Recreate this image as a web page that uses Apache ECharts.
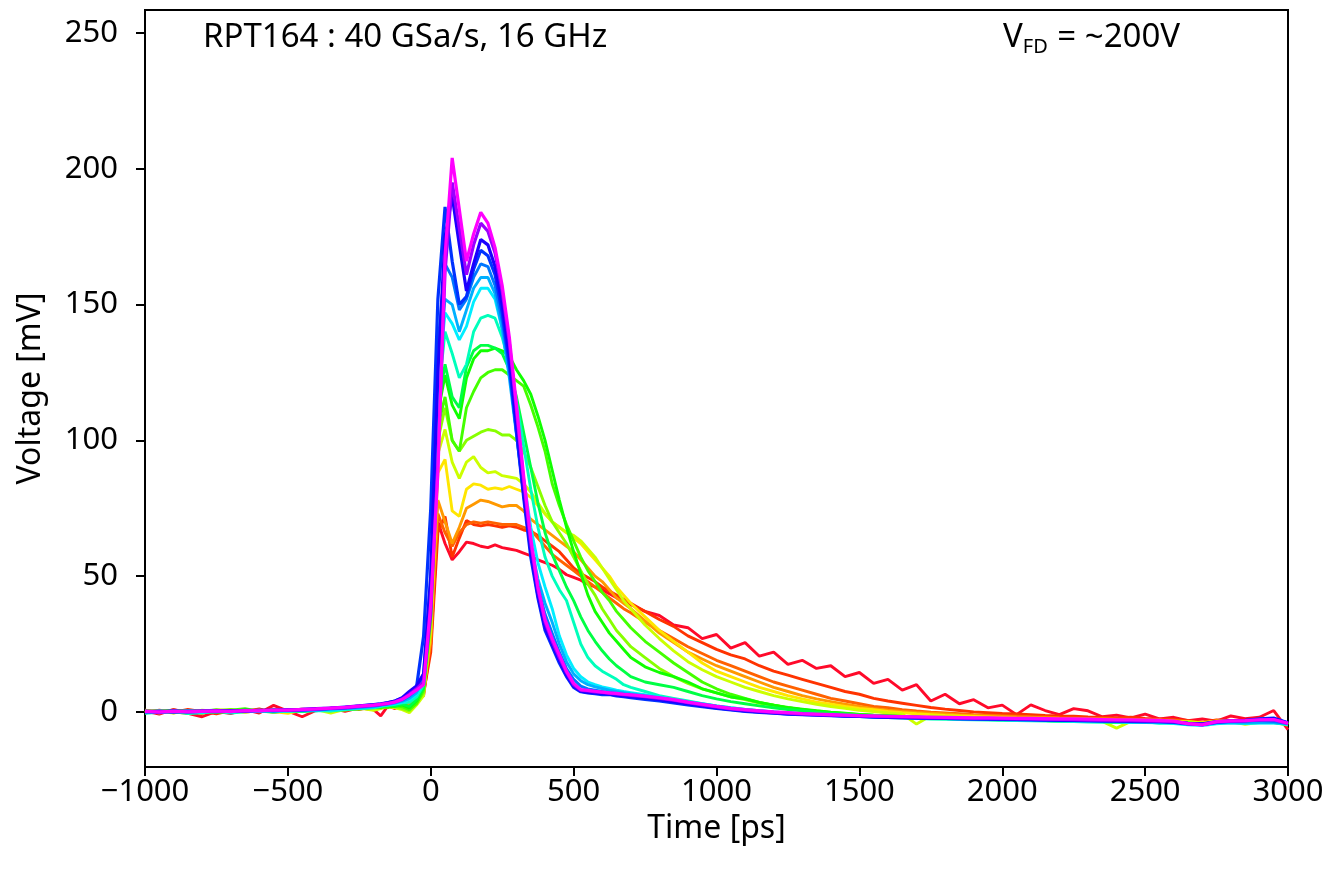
<!DOCTYPE html>
<html>
<head>
<meta charset="utf-8">
<script src="https://cdn.jsdelivr.net/npm/echarts@6/dist/echarts.min.js"></script>
<style>
html,body{margin:0;padding:0;background:#fff;}
#chart{width:1330px;height:873px;}
</style>
</head>
<body>
<div id="chart"></div>
<script>
// Time samples [ps]
const timePs = [
 -1000,-950,-900,-850,-800,-750,-700,-650,-600,-550,-500,-450,-400,-350,-300,-250,-200,
 -175,-150,-125,-100,-75,-50,-25,0,25,50,75,100,125,150,175,200,225,250,275,300,325,350,375,400,425,450,475,500,525,550,575,600,625,650,675,700,
 750,800,850,900,950,1000,1050,1100,1150,1200,1250,1300,1350,1400,1450,1500,1550,1600,1650,1700,1750,1800,1850,1900,1950,2000,2050,2100,2150,2200,2250,2300,2350,2400,2450,2500,2550,2600,2650,2700,2750,2800,2850,2900,2950,3000
];

// Voltage [mV] per trace (red -> magenta)
const vRed = [
 0.3,-0.8,0.9,-0.5,-1.8,0.2,-0.6,0.8,-0.4,2.4,0.3,-1.8,0.6,1.4,0.2,1.5,0.8,
 -1.5,2.2,1.2,2.8,3.5,4.2,6, 25,70,62,56,59,62.5,62,61,60.5,61.5,60.5,60,59.5,58.5,57.5,56,55,54,52.5,50.5,49.5,48.5,47,46,45,43.5,42,41,39.5,
 37,35.5,32,31,27,28.5,23.5,25.5,20.5,22,17.5,19,16,17,13,14.5,10.5,12,8,10,4,6.5,3,4.5,1.5,2.5,-1,2.6,0.5,-1,1.2,0.4,-1.8,-1.2,-2.2,-0.8,-2.6,-2.0,-3.2,-2.6,-3.4,-1.5,-2.5,-2,0.5,-6.5
];
const vRedOrange = [
 -0.4,0.6,-0.2,0.9,0.1,-0.7,0.5,0.2,1.1,-0.3,0.7,0.4,1.2,0.3,1.5,0.9,1.8,
 1.5,2.6,2.2,3.0,2.5,4.5,7, 22,66,72,57,64,70.5,69,68.5,69,68.5,68,68.5,68,67,66.5,65,63,61,59,56,53,51,49.5,48,46,44.5,43,41.5,40,
 37,34,31.5,28,25.5,23,21,19.5,17,15,13.5,12,10.5,9,7.5,6.5,5,4,3.2,2.4,1.6,1,0.5,0,-0.3,-0.6,-0.8,-1.0,-1.3,-1.5,-1.6,-1.9,-2.0,-2.2,-2.0,-2.4,-2.6,-2.8,-3.2,-3.8,-3.0,-3.2,-3.6,-3.0,-3.3,-4.5
];
const vOrangeRed = [
 0.5,-0.3,0.4,0.1,-0.5,0.6,-0.2,0.3,0.8,0.0,0.5,1.0,0.6,1.3,0.9,1.6,1.9,
 2.1,1.8,2.9,3.4,3.0,4.8,8, 28,73,66,61,66,69,70,69.5,70,69.5,69,69,69,68,67,64,61,58,56,54,52,50,48,46,44,42,40,38,36.5,
 33,30,27,24,21.5,19,17,15,13,11,9.5,8,6.5,5,4,3,2,1.5,0.8,0.3,-0.1,-0.4,-0.7,-1.0,-1.2,-1.4,-1.6,-1.8,-1.9,-2.1,-2.2,-2.4,-2.5,-2.6,-2.7,-2.9,-3.0,-3.1,-3.5,-4.0,-3.4,-3.3,-3.5,-3.4,-3.6,-4.8
];
const vOrange = [
 -0.2,0.4,0.0,-0.6,0.3,0.1,0.7,-0.1,0.4,0.6,0.2,0.9,0.5,1.1,1.4,1.2,2.0,
 2.3,2.0,2.7,3.1,2.8,4.6,8, 26,78,70,62,68,75,76.5,78,77.5,76.5,75.5,76,76,74,71,69,67,65,63,61,59,56,53,50,48,45,42,40,38,
 33.5,29,25.5,22,19.5,17,15,13,11,9,7.5,6,4.8,3.8,2.8,2,1.2,0.6,0.2,-0.2,-0.5,-0.8,-1.1,-1.3,-1.5,-1.7,-1.9,-2.0,-2.1,-2.3,-2.4,-2.5,-2.6,-2.8,-2.9,-3.0,-3.1,-3.3,-3.6,-4.2,-3.5,-3.2,-3.6,-3.3,-3.5,-4.4
];
const vYellow = [
 0.6,0.2,-0.4,0.5,0.0,0.8,0.3,-0.2,0.6,0.1,-0.5,0.7,1.0,0.6,1.2,1.7,1.3,
 1.8,2.4,1.6,2.5,1.0,3.8,7, 30,88,93,74,72,82,84,83.5,82,82.5,82,83,82,81,79,76,73,70,68,66,64,62,59,56,53,50,46,43,40,
 35,30,26,22,18,15,13,11,9,7.5,6,4.8,3.6,2.8,2,1.3,0.8,0.2,-0.3,-0.7,-1.0,-1.3,-1.5,-1.7,-1.9,-2.1,-2.3,-2.4,-2.5,-2.7,-2.8,-2.9,-3.0,-3.2,-3.3,-3.4,-3.1,-3.5,-3.7,-4.0,-3.3,-3.4,-3.8,-3.0,-3.6,-4.6
];
const vYellowGreen = [
 -0.1,0.5,0.3,-0.3,0.6,0.2,0.0,0.9,0.3,-0.2,0.5,0.3,0.8,-0.4,0.9,1.4,0.6,
 1.2,2.0,1.5,0.8,-0.3,2.5,6, 32,95,104,92,86,92,94,90,88,88.5,87,86.5,86,84,81,77,73,70,68,66,65,63,60,57,53,49,45,41,38,
 32,27,22.5,18.5,15.5,13,11,9,7.5,6,4.8,3.8,2.8,2,1.3,0.6,0.1,-0.4,-0.8,-4.5,-1.4,-1.7,-1.9,-2.2,-2.4,-2.5,-2.7,-2.8,-3.0,-3.1,-3.2,-3.3,-3.5,-6.0,-3.5,-3.6,-3.4,-3.8,-3.6,-4.2,-3.5,-3.6,-4.6,-3.8,-3.5,-4.8
];
const vChartreuse = [
 0.4,-0.2,0.6,0.2,-0.4,0.5,0.9,0.1,0.4,0.3,0.8,0.2,0.6,1.0,0.7,1.1,1.5,
 1.4,2.2,1.9,1.2,0.4,3.2,7, 33,100,112,100,96,100,101.5,103,104,103.5,102,102,100,96,90,83,76,70,66,62,57,52,47,43,38,34,30,27,24,
 20,16,13,10.5,8.5,7,5.5,4.5,3.2,2.5,1.5,0.8,0.3,-0.2,-0.6,-0.9,-1.2,-1.5,-1.7,-1.9,-2.1,-2.3,-2.4,-2.6,-2.7,-2.8,-2.9,-3.0,-3.2,-3.3,-3.4,-3.5,-3.6,-3.9,-3.7,-3.6,-3.8,-4.0,-4.4,-4.6,-3.9,-3.7,-4.0,-3.8,-3.9,-4.9
];
const vGreenA = [
 0.1,0.5,-0.3,0.4,0.2,-0.1,0.6,1.2,0.2,0.5,0.3,0.6,0.9,0.4,1.3,1.0,1.8,
 2.0,1.6,2.4,1.9,0.8,3.0,8, 35,105,116,100,96,112,118,123,125,126,126,124,122,120,113,105,96,84,76,69,63,57,52,48,44,41,37,34,31,
 26,22,18,14.5,11,8.5,6.5,5,3.5,2.5,1.5,0.8,0.2,-0.3,-0.7,-1.0,-1.3,-1.5,-1.8,-2.0,-2.2,-2.4,-2.5,-2.7,-2.8,-2.9,-3.0,-3.1,-3.2,-3.4,-3.5,-3.5,-3.6,-3.8,-3.7,-3.5,-3.9,-3.7,-4.2,-4.5,-3.8,-3.6,-3.9,-3.7,-3.8,-4.6
];
const vGreenB = [
 -0.3,0.2,0.5,0.0,0.4,-0.2,0.3,0.6,0.0,0.8,0.4,0.1,0.7,0.9,0.8,1.3,1.6,
 1.7,2.3,2.0,2.6,1.5,4.0,9, 38,110,124,113,108,123,130,133,133,134,133,131,126,122,117,109,100,89,78,68,59,51,43,37,33,29,26,23,20,
 16.6,14.5,13,11,8.5,7,5.5,4.8,3.5,2.5,1.6,1.0,0.4,-0.1,-0.5,-0.9,-1.2,-1.4,-1.7,-1.9,-2.1,-2.3,-2.5,-2.6,-2.7,-2.9,-3.0,-3.1,-3.2,-3.3,-3.4,-3.5,-3.6,-3.7,-3.8,-3.4,-3.7,-3.9,-4.3,-4.4,-3.7,-3.8,-3.6,-3.9,-3.7,-4.5
];
const vGreenC = [
 0.2,0.0,0.4,-0.4,0.3,0.7,0.1,0.3,0.6,0.2,0.5,0.8,0.4,1.1,1.0,1.5,1.9,
 2.2,2.5,2.1,2.9,2.0,4.5,9, 38,112,128,116,112,127,133,135,135,134,132,126,116,103,90,77,66,58,52,46,41,35,30,26,22.5,19.5,17,15,13,
 11,10,9,7.5,6,4.8,3.8,3,2.2,1.5,0.9,0.4,-0.1,-0.5,-0.8,-1.1,-1.3,-1.6,-1.8,-2.0,-2.2,-2.3,-2.5,-2.6,-2.8,-2.9,-3.0,-3.1,-3.2,-3.3,-3.4,-3.5,-3.6,-3.7,-3.5,-3.6,-3.8,-4.0,-4.1,-4.4,-3.9,-3.6,-3.8,-3.7,-3.8,-4.4
];
const vTurquoise = [
 -0.5,-0.2,0.1,-0.6,-0.3,0.2,-0.4,0.0,0.3,-0.1,0.4,0.2,0.5,0.3,0.9,1.2,1.5,
 2.0,2.4,2.8,3.3,3.5,5.5,10, 40,115,140,132,123,128,140,145,146,145,138,128,114,98,82,68,57,50,45,41,33,25,20,17,15,13.5,12,10,9,
 7.5,6,5,4,3,2.2,1.5,0.9,0.4,0,-0.4,-0.7,-1.0,-1.3,-1.5,-1.7,-1.9,-2.1,-2.3,-2.4,-2.6,-2.7,-2.8,-2.9,-3.0,-3.1,-3.2,-3.3,-3.4,-3.5,-3.6,-3.7,-3.8,-3.6,-3.9,-3.7,-4.2,-4.0,-4.6,-4.4,-4.1,-3.9,-4.3,-4.0,-3.9,-4.7
];
const vCyan = [
 0.1,-0.3,0.3,0.0,-0.2,0.4,0.2,0.1,0.5,0.3,0.2,0.6,0.8,0.7,1.0,1.4,1.7,
 2.3,2.6,3.0,3.6,4.5,6.5,11, 42,120,147,143,137,142,151,156,156,152,141,125,106,86,68,55,46,38,28,21,16,13,11,10,9.2,8.6,8,7.5,7.1,
 6.3,5.5,4.6,3.8,3.0,2.2,1.5,0.9,0.4,0,-0.4,-0.7,-1.0,-1.2,-1.4,-1.6,-1.8,-2.0,-2.1,-2.3,-2.4,-2.5,-2.6,-2.7,-2.8,-2.9,-3.0,-3.1,-3.2,-3.3,-3.4,-3.5,-3.6,-3.7,-3.8,-3.9,-4.0,-4.3,-4.8,-5.0,-4.4,-4.0,-4.2,-4.1,-4.0,-4.6
];
const vSky = [
 -0.2,0.3,0.0,0.4,0.1,-0.1,0.5,0.3,0.2,0.6,0.4,0.7,0.6,1.0,1.2,1.5,1.9,
 2.4,2.8,3.2,3.9,5.0,7.0,12, 45,125,152,150,140,148,156,160,160,154,141,123,102,81,62,49,40,33,25,18.5,14,11.5,10,9.2,8.6,8,7.5,7.1,6.7,
 6.0,5.3,4.5,3.7,2.9,2.1,1.4,0.8,0.3,-0.1,-0.4,-0.7,-0.9,-1.1,-1.3,-1.5,-1.7,-1.9,-2.0,-2.2,-2.3,-2.4,-2.5,-2.6,-2.7,-2.8,-2.9,-3.0,-3.1,-3.2,-3.3,-3.4,-3.5,-3.6,-3.7,-3.8,-3.7,-4.0,-4.6,-4.8,-4.0,-3.9,-4.0,-3.8,-3.9,-4.4
];
const vAzure = [
 0.0,0.2,-0.2,0.3,0.1,0.4,0.0,0.4,0.3,0.5,0.7,0.5,0.9,1.1,1.3,1.8,2.2,
 2.6,3.0,3.5,4.3,5.8,8.0,14, 50,135,165,160,148,152,160,165,164,157,144,126,103,80,60,46,36,29,22,16,12,9.5,8.5,8,7.5,7.1,6.8,6.5,6.2,
 5.7,5.0,4.3,3.5,2.7,2.0,1.3,0.7,0.2,-0.2,-0.5,-0.8,-1.0,-1.2,-1.4,-1.6,-1.8,-1.9,-2.1,-2.2,-2.3,-2.4,-2.5,-2.6,-2.7,-2.8,-2.9,-3.0,-3.1,-3.2,-3.2,-3.3,-3.4,-3.5,-3.6,-3.7,-3.6,-3.9,-4.5,-4.8,-3.9,-3.6,-3.5,-3.2,-3.6,-4.3
];
const vBlue = [
 0.1,-0.1,0.2,0.0,0.3,0.2,0.5,0.3,0.6,0.4,0.6,0.8,1.0,1.3,1.6,2.1,2.6,
 2.9,3.3,4.0,5.0,7.0,9.0,28, 75,152,186,166,150,153,163,170,168,161,147,128,103,79,57,42,30,24,18,13,9,7.4,7.0,6.7,6.3,6.4,5.9,5.6,5.2,
 4.6,4.0,3.3,2.6,1.9,1.3,0.7,0.2,-0.2,-0.5,-0.8,-1.0,-1.2,-1.4,-1.6,-1.7,-1.9,-2.0,-2.1,-2.2,-2.3,-2.4,-2.5,-2.6,-2.6,-2.7,-2.8,-2.9,-3.0,-3.0,-3.1,-3.2,-3.3,-3.3,-3.4,-3.5,-3.6,-3.8,-4.3,-4.6,-3.9,-3.4,-3.2,-2.6,-2.3,-4.0
];
const vDeepBlue = [
 0.3,0.0,0.4,0.1,0.2,0.5,0.3,0.6,0.5,0.7,0.6,0.9,1.2,1.4,1.8,2.2,2.7,
 3.0,3.4,4.0,5.2,7.5,9.5,14, 50,125,175,190,172,155,165,174,172,164,150,131,106,81,59,43,31,25,19,13.5,9.5,7.6,7.2,7.0,6.8,6.5,6.2,5.9,5.6,
 5.1,4.5,3.8,3.0,2.2,1.5,0.9,0.4,0,-0.4,-0.7,-0.9,-1.1,-1.3,-1.5,-1.7,-1.8,-2.0,-2.1,-2.2,-2.3,-2.4,-2.5,-2.5,-2.6,-2.7,-2.8,-2.8,-2.9,-3.0,-3.1,-3.1,-3.2,-3.3,-3.4,-3.4,-3.5,-3.7,-4.2,-4.4,-3.6,-3.3,-3.1,-2.8,-2.5,-4.1
];
const vViolet = [
 0.1,0.3,0.0,0.2,0.4,0.1,0.4,0.3,0.6,0.5,0.8,0.7,1.1,1.3,1.6,2.0,2.4,
 2.7,3.1,3.7,4.7,6.5,8.5,11, 36,92,162,195,178,161,172,180,177,169,155,136,111,85,62,45,33,26,20,14.5,10,8.0,7.7,7.4,7.2,6.9,6.6,6.3,6.1,
 5.6,5.0,4.3,3.4,2.6,1.8,1.1,0.6,0.2,-0.2,-0.5,-0.8,-1.0,-1.2,-1.4,-1.5,-1.7,-1.8,-1.9,-2.0,-2.1,-2.2,-2.3,-2.4,-2.4,-2.5,-2.6,-2.7,-2.8,-2.8,-2.9,-3.0,-3.1,-3.2,-3.2,-3.3,-3.5,-3.6,-4.3,-4.7,-3.7,-3.4,-3.3,-3.0,-2.9,-4.3
];
const vMagenta = [
 0.2,-0.1,0.3,0.0,0.2,0.4,0.1,0.5,0.4,0.7,0.6,0.9,1.1,1.4,1.7,2.1,2.5,
 2.8,3.1,3.6,4.6,6.2,8.0,10, 40,88,168,204,185,166,176,184,180,171,157,138,113,87,64,46,34,27,21,15,10.5,8.2,7.9,7.6,7.3,7.0,6.8,6.5,6.3,
 5.8,5.2,4.5,3.6,2.8,2.0,1.3,0.8,0.4,0,-0.3,-0.6,-0.8,-1.0,-1.2,-1.4,-1.5,-1.6,-1.7,-1.8,-1.9,-2.0,-2.1,-2.2,-2.2,-2.3,-2.4,-2.4,-2.5,-2.6,-2.6,-2.7,-2.8,-2.9,-2.9,-3.0,-3.1,-3.4,-4.3,-4.8,-3.6,-3.3,-3.2,-2.9,-2.8,-4.2
];

const traces = [vRed, vRedOrange, vOrangeRed, vOrange, vYellow, vYellowGreen, vChartreuse, vGreenA, vGreenB, vGreenC, vTurquoise, vCyan, vSky, vAzure, vBlue, vDeepBlue, vViolet, vMagenta];
const traceColors = ['#ff0a2a','#ff3300','#ff6200','#ff9900','#ffe600','#ccff00','#88ff00','#44ff00','#11ff00','#00ff44','#00ffbb','#00eeff','#00b0ff','#0077ff','#0033ff','#1a00ff','#9900ff','#ff00ff'];

const xTicks = [-1000,-500,0,500,1000,1500,2000,2500,3000];
const yTicks = [0,50,100,150,200,250];

traces.forEach((a,i)=>{ if(a.length!==timePs.length) throw new Error('trace '+i+' length '+a.length+' vs '+timePs.length); });

const FONT = 'Noto Sans';
const chart = echarts.init(document.getElementById('chart'), null, {renderer:'canvas'});
chart.setOption({
  animation:false,
  backgroundColor:'#fff',
  grid:{left:145,right:42,top:10,bottom:106,show:true,borderColor:'#000',borderWidth:2,backgroundColor:'transparent'},
  xAxis:{
    type:'value',min:-1000,max:3000,interval:500,
    name:'Time [ps]',nameLocation:'middle',nameGap:46,
    nameTextStyle:{fontFamily:FONT,fontSize:32,color:'#000'},
    axisLine:{show:true,onZero:false,lineStyle:{color:'#000',width:2}},
    axisTick:{show:true,inside:false,length:9,lineStyle:{color:'#000',width:2},customValues:xTicks},
    axisLabel:{fontFamily:FONT,fontSize:31,color:'#000',margin:10,customValues:xTicks,
      formatter:v=>String(v).replace('-','\u2212')},
    splitLine:{show:false}
  },
  yAxis:{
    type:'value',min:-20.3,max:258.5,
    name:'Voltage [mV]',nameLocation:'middle',nameGap:98,
    nameTextStyle:{fontFamily:FONT,fontSize:32,color:'#000'},
    axisLine:{show:true,onZero:false,lineStyle:{color:'#000',width:2}},
    axisTick:{show:true,inside:false,length:9,lineStyle:{color:'#000',width:2},customValues:yTicks},
    axisLabel:{fontFamily:FONT,fontSize:31,color:'#000',margin:27,customValues:yTicks},
    splitLine:{show:false}
  },
  graphic:[
    {type:'text',left:203,top:21,style:{text:'RPT164 : 40 GSa/s, 16 GHz',fontFamily:FONT,fontSize:33,fill:'#000'}},
    {type:'text',left:1003,top:21,style:{
      text:'{v|V}{s|FD}{v| = ~200V}',fill:'#000',
      rich:{v:{fontFamily:FONT,fontSize:33,fill:'#000',verticalAlign:'bottom'},
            s:{fontFamily:FONT,fontSize:20,fill:'#000',verticalAlign:'bottom',padding:[0,1,-3,0]}}
    }}
  ],
  series: traces.map((arr,i)=>({
    type:'line',
    data: timePs.map((t,k)=>[t,arr[k]]),
    showSymbol:false,
    smooth:false,
    clip:true,
    lineStyle:{color:traceColors[i],width:i>=14?3.2:2.9},
    itemStyle:{color:traceColors[i]},
    z:2+i,
    silent:true
  }))
});
</script>
</body>
</html>
